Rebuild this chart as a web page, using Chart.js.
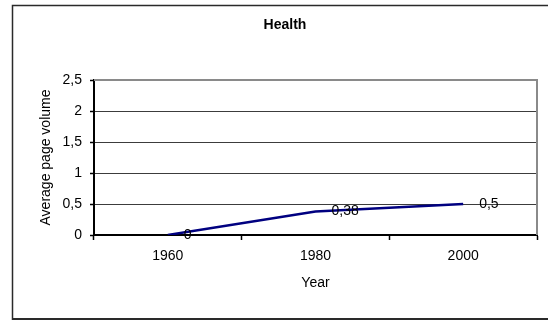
<!DOCTYPE html>
<html>
<head>
<meta charset="utf-8">
<script src="https://cdn.jsdelivr.net/npm/chart.js@4/dist/chart.umd.min.js"></script>
<style>
  html, body { margin: 0; padding: 0; background: #fff; }
  #wrap { width: 548px; height: 320px; position: relative; }
</style>
</head>
<body>
<div id="wrap"><canvas id="c" width="548" height="320"></canvas></div>
<script>
// Chart data
const chartTitle = 'Health';
const years = ['1960', '1980', '2000'];
const pageVolume = [0, 0.38, 0.5];
const yMin = 0, yMax = 2.5, yStep = 0.5;
const xTitle = 'Year';
const yTitle = 'Average page volume';

const FONT = '"Liberation Sans", Arial, sans-serif';
const decimalComma = v => String(v).replace('.', ',');

// Frame around the whole chart, plot-area border, title and point labels
const decorations = {
  id: 'decorations',
  beforeDraw(chart) {
    const ctx = chart.ctx;
    ctx.save();
    ctx.fillStyle = '#fff';
    ctx.fillRect(0, 0, chart.width, chart.height);
    ctx.strokeStyle = '#2a2a2a';
    ctx.lineWidth = 1.5;
    ctx.beginPath();
    ctx.moveTo(12.5, 320);
    ctx.lineTo(12.5, 5.5);
    ctx.lineTo(600, 5.5);
    ctx.stroke();
    ctx.lineWidth = 2;
    ctx.beginPath();
    ctx.moveTo(12, 319);
    ctx.lineTo(600, 319);
    ctx.stroke();
    ctx.restore();
  },
  afterDraw(chart) {
    const ctx = chart.ctx;
    const a = chart.chartArea;
    ctx.save();
    // plot area border (top and right)
    ctx.strokeStyle = '#8a8a8a';
    ctx.lineWidth = 2;
    ctx.beginPath();
    ctx.moveTo(a.left, a.top);
    ctx.lineTo(a.right, a.top);
    ctx.lineTo(a.right, a.bottom);
    ctx.stroke();
    // title
    ctx.fillStyle = '#000';
    ctx.font = 'bold 14px ' + FONT;
    ctx.textAlign = 'center';
    ctx.textBaseline = 'middle';
    ctx.fillText(chartTitle, 285, 25);
    ctx.restore();
  },
  afterDatasetsDraw(chart) {
    const ctx = chart.ctx;
    const meta = chart.getDatasetMeta(0);
    ctx.save();
    ctx.fillStyle = '#000';
    ctx.font = '14px ' + FONT;
    ctx.textAlign = 'left';
    ctx.textBaseline = 'middle';
    meta.data.forEach((pt, i) => {
      ctx.fillText(decimalComma(pageVolume[i]), pt.x + 16, pt.y);
    });
    ctx.restore();
  }
};

new Chart(document.getElementById('c'), {
  type: 'line',
  data: {
    labels: years,
    datasets: [{
      data: pageVolume,
      borderColor: '#000080',
      borderWidth: 2.5,
      pointRadius: 0,
      tension: 0,
      fill: false
    }]
  },
  options: {
    responsive: false,
    animation: false,
    devicePixelRatio: 1,
    layout: { padding: { left: 0, right: 11, top: 80, bottom: 0 } },
    plugins: {
      legend: { display: false },
      title: { display: false },
      tooltip: { enabled: false }
    },
    scales: {
      x: {
        type: 'category',
        offset: true,
        afterFit(s) { s.height = 85; },
        grid: {
          offset: true,
          drawOnChartArea: false,
          drawTicks: true,
          tickLength: 5,
          tickColor: '#000',
          tickWidth: 1.5
        },
        border: { display: true, color: '#000', width: 2 },
        ticks: {
          color: '#000',
          font: { family: FONT, size: 14 },
          padding: 8,
          maxRotation: 0
        },
        title: {
          display: true,
          text: xTitle,
          color: '#000',
          font: { family: FONT, size: 14 },
          padding: { top: 0, bottom: 28.5 }
        }
      },
      y: {
        min: yMin,
        max: yMax,
        afterFit(s) { s.width = 94; },
        grid: {
          color: ctx => (ctx.tick && ctx.tick.value === yMax) ? 'rgba(0,0,0,0)' : '#3c3c3c',
          lineWidth: 1,
          tickLength: 4,
          tickColor: '#000',
          tickWidth: 1.5
        },
        border: { display: true, color: '#000', width: 2 },
        ticks: {
          stepSize: yStep,
          color: '#000',
          font: { family: FONT, size: 14 },
          padding: 8,
          callback: v => decimalComma(v)
        },
        title: {
          display: true,
          text: yTitle,
          color: '#000',
          font: { family: FONT, size: 14 },
          padding: { top: 37.5, bottom: 0 }
        }
      }
    }
  },
  plugins: [decorations]
});
</script>
</body>
</html>
